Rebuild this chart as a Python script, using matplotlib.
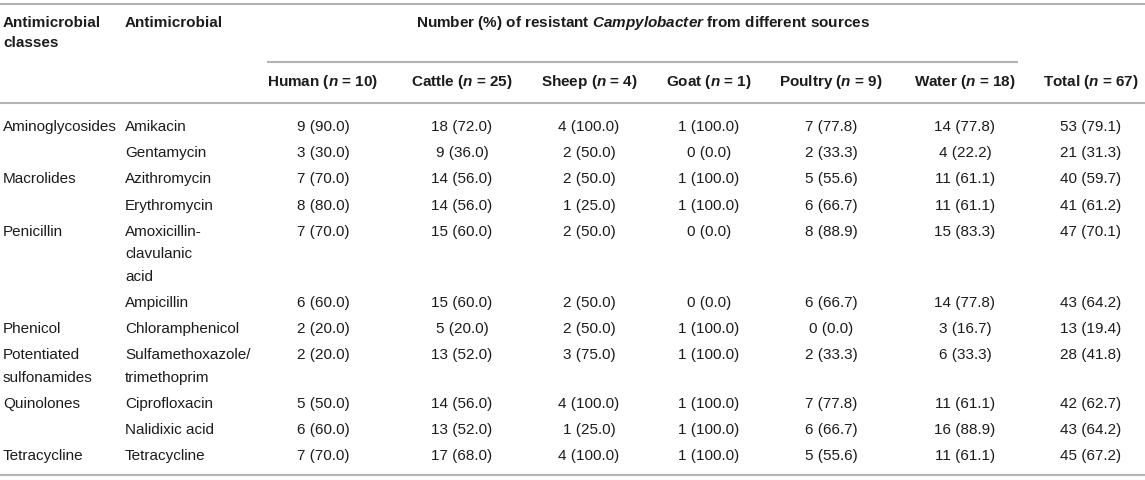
import matplotlib
matplotlib.use("Agg")
import matplotlib.pyplot as plt

plt.rcParams['font.family'] = ['Liberation Sans', 'DejaVu Sans']
plt.rcParams['mathtext.fontset'] = 'custom'
plt.rcParams['mathtext.rm'] = 'Liberation Sans:bold'
plt.rcParams['mathtext.it'] = 'Liberation Sans:bold:italic'
plt.rcParams['mathtext.bf'] = 'Liberation Sans:bold'

# ---- data ----
classes = ["Aminoglycosides", "", "Macrolides", "", "Penicillin", "", "Phenicol",
           "Potentiated\nsulfonamides", "Quinolones", "", "Tetracycline"]
antimicrobials = ["Amikacin", "Gentamycin", "Azithromycin", "Erythromycin",
                  "Amoxicillin-\nclavulanic\nacid", "Ampicillin", "Chloramphenicol",
                  "Sulfamethoxazole/\ntrimethoprim", "Ciprofloxacin", "Nalidixic acid",
                  "Tetracycline"]
sources = ["Human", "Cattle", "Sheep", "Goat", "Poultry", "Water", "Total"]
source_n = [10, 25, 4, 1, 9, 18, 67]
counts = {
    "Human":   [9, 3, 7, 8, 7, 6, 2, 2, 5, 6, 7],
    "Cattle":  [18, 9, 14, 14, 15, 15, 5, 13, 14, 13, 17],
    "Sheep":   [4, 2, 2, 1, 2, 2, 2, 3, 4, 1, 4],
    "Goat":    [1, 0, 1, 1, 0, 0, 1, 1, 1, 1, 1],
    "Poultry": [7, 2, 5, 6, 8, 6, 0, 2, 7, 6, 5],
    "Water":   [14, 4, 11, 11, 15, 14, 3, 6, 11, 16, 11],
    "Total":   [53, 21, 40, 41, 47, 43, 13, 28, 42, 43, 45],
}
percents = {
    "Human":   [90.0, 30.0, 70.0, 80.0, 70.0, 60.0, 20.0, 20.0, 50.0, 60.0, 70.0],
    "Cattle":  [72.0, 36.0, 56.0, 56.0, 60.0, 60.0, 20.0, 52.0, 56.0, 52.0, 68.0],
    "Sheep":   [100.0, 50.0, 50.0, 25.0, 50.0, 50.0, 50.0, 75.0, 100.0, 25.0, 100.0],
    "Goat":    [100.0, 0.0, 100.0, 100.0, 0.0, 0.0, 100.0, 100.0, 100.0, 100.0, 100.0],
    "Poultry": [77.8, 33.3, 55.6, 66.7, 88.9, 66.7, 0.0, 33.3, 77.8, 66.7, 55.6],
    "Water":   [77.8, 22.2, 61.1, 61.1, 83.3, 77.8, 16.7, 33.3, 61.1, 88.9, 61.1],
    "Total":   [79.1, 31.3, 59.7, 61.2, 70.1, 64.2, 19.4, 41.8, 62.7, 64.2, 67.2],
}

# ---- layout ----
W, H = 1145, 480
fig = plt.figure(figsize=(W / 100, H / 100), dpi=100)
ax = fig.add_axes([0, 0, 1, 1])
ax.set_xlim(0, W)
ax.set_ylim(H, 0)
ax.axis('off')

TXT = '#1c1c1c'
LINE = '#b4b4b4'
FS = 11
x_class, x_anti = 3, 125
col_centers = [323, 462, 589, 709, 831, 965, 1091]
sub_left, sub_right = 267, 1018

# rules
ax.plot([0, W], [4, 4], color=LINE, lw=1.5, solid_capstyle='butt')
ax.plot([sub_left, sub_right], [62, 62], color=LINE, lw=1.5, solid_capstyle='butt')
ax.plot([0, W], [103, 103], color=LINE, lw=1.5, solid_capstyle='butt')
ax.plot([0, W], [475, 475], color=LINE, lw=1.5, solid_capstyle='butt')

# header
hdr = dict(fontsize=FS, fontweight='bold', color=TXT, va='center')
ax.text(x_class, 23, "Antimicrobial", ha='left', **hdr)
ax.text(x_class, 43, "classes", ha='left', **hdr)
ax.text(x_anti, 23, "Antimicrobial", ha='left', **hdr)
ax.text((sub_left + sub_right) / 2, 23,
        r"Number (%) of resistant $Campylobacter$ from different sources",
        ha='center', **hdr)
for s, n, cx in zip(sources, source_n, col_centers):
    ax.text(cx, 82, f"{s} ($n$ = {n})", ha='center', **hdr)

# body
body = dict(fontsize=FS, color=TXT, va='center')
y = 127
PITCH, LSP = 26.2, 22.5
for i, (cl, am) in enumerate(zip(classes, antimicrobials)):
    cl_lines = cl.split("\n") if cl else []
    am_lines = am.split("\n")
    for k, t in enumerate(cl_lines):
        ax.text(x_class, y + k * LSP, t, ha='left', **body)
    for k, t in enumerate(am_lines):
        ax.text(x_anti, y + k * LSP, t, ha='left', **body)
    for s, cx in zip(sources, col_centers):
        ax.text(cx, y, f"{counts[s][i]} ({percents[s][i]:.1f})", ha='center', **body)
    nlines = max(len(cl_lines), len(am_lines))
    y += PITCH + LSP * (nlines - 1)

fig.savefig("out.png", dpi=100)
